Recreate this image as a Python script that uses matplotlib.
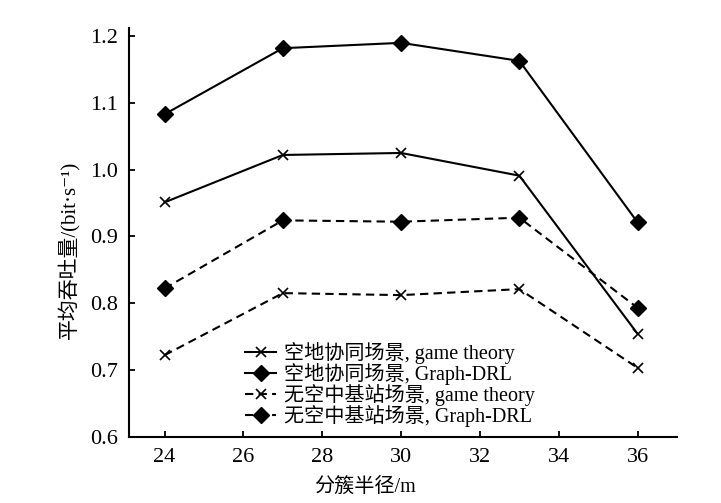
import matplotlib
matplotlib.use('Agg')
import matplotlib.pyplot as plt

# data
radius = [24, 27, 30, 33, 36]
coop_game = [0.951, 1.022, 1.025, 0.991, 0.754]
coop_drl = [1.083, 1.182, 1.190, 1.163, 0.921]
noair_game = [0.722, 0.815, 0.812, 0.821, 0.703]
noair_drl = [0.822, 0.924, 0.922, 0.928, 0.793]

labels = ['空地协同场景, game theory',
          '空地协同场景, Graph-DRL',
          '无空中基站场景, game theory',
          '无空中基站场景, Graph-DRL']

plt.rcParams['font.family'] = ['Liberation Serif', 'DejaVu Serif',
                               'Noto Sans CJK SC']

fig = plt.figure(figsize=(7.21, 5.03), dpi=100)
ax = fig.add_axes([0.179, 0.132, 0.760, 0.812])

dash = (0, (4, 2.5))
ax.plot(radius, coop_game, color='black', lw=1.5, marker='x',
        markersize=7, mew=1.2, label=labels[0])
ax.plot(radius, coop_drl, color='black', lw=1.5, marker='D',
        markersize=8.5, label=labels[1])
ax.plot(radius, noair_game, color='black', lw=1.5, ls=dash, marker='x',
        markersize=7, mew=1.2, label=labels[2])
ax.plot(radius, noair_drl, color='black', lw=1.5, ls=dash, marker='D',
        markersize=8.5, label=labels[3])

ax.set_xlim(23.1, 37.0)
ax.set_ylim(0.6, 1.212)
ax.set_xticks([24, 26, 28, 30, 32, 34, 36])
ax.set_yticks([0.6, 0.7, 0.8, 0.9, 1.0, 1.1, 1.2])
ax.set_yticklabels(['0.6', '0.7', '0.8', '0.9', '1.0', '1.1', '1.2'])

ax.spines['top'].set_visible(False)
ax.spines['right'].set_visible(False)
ax.spines['left'].set_linewidth(1.5)
ax.spines['bottom'].set_linewidth(1.5)
ax.tick_params(direction='in', length=4, width=1.3, labelsize=16, pad=8)

ax.set_xlabel('分簇半径/m', fontsize=14.5)
ax.xaxis.set_label_coords(0.43, -0.10)
ax.set_ylabel('平均吞吐量/(bit·s⁻¹)', fontsize=15)
ax.yaxis.set_label_coords(-0.088, 0.457)

ax.legend(loc='lower left', bbox_to_anchor=(0.19, -0.005), frameon=False,
          fontsize=14.5, handlelength=1.55, handletextpad=0.35,
          labelspacing=-0.06, borderaxespad=0.2)

fig.savefig('out.png', dpi=100)
